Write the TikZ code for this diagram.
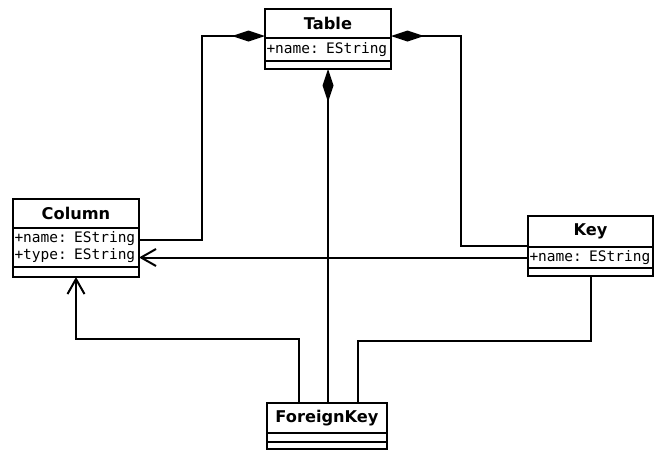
\documentclass[tikz,border=0pt]{standalone}
\usepackage{fontspec}
\newfontfamily\umlsans{DejaVu Sans}
\newfontfamily\umlmono{DejaVu Sans Mono}
\usetikzlibrary{arrows.meta}
\usetikzlibrary{positioning}

\begin{document}
\begin{tikzpicture}[x=1pt,y=-1pt,line width=2pt,
  cls/.style={draw,inner sep=0pt,outer sep=0pt,anchor=north west,font=\umlsans\bfseries\fontsize{16.2}{19}\selectfont},
  attrs/.style={draw,inner ysep=0pt,inner xsep=1.5pt,outer sep=0pt,text width=#1,align=left,font=\umlmono\fontsize{14.5}{17}\selectfont},
  ops/.style={draw,inner sep=0pt,outer sep=0pt},
  compo/.style={{Diamond[length=33pt,width=11pt]}-},
  assoc/.style={-{Straight Barb[length=15pt,width=17pt]}}]
\useasboundingbox (0,0) rectangle (654,450);
% classes
\node[cls,minimum width=126pt,minimum height=29pt] (tabT) at (265,9) {Table};
\node[attrs=123pt,minimum height=23pt,below=0pt of tabT] (tabA) {+name: EString};
\node[ops,minimum width=126pt,minimum height=8pt,below=0pt of tabA] (tabO) {};
\node[cls,minimum width=126pt,minimum height=29pt] (colT) at (13,199) {Column};
\node[attrs=123pt,minimum height=39pt,below=0pt of colT] (colA) {+name: EString\\+type: EString};
\node[ops,minimum width=126pt,minimum height=10pt,below=0pt of colA] (colO) {};
\node[cls,minimum width=125pt,minimum height=31pt] (keyT) at (528,216) {Key};
\node[attrs=122pt,minimum height=21pt,below=0pt of keyT] (keyA) {+name: EString};
\node[ops,minimum width=125pt,minimum height=8pt,below=0pt of keyA] (keyO) {};
\node[cls,minimum width=120pt,minimum height=30pt] (fkT) at (267,403) {ForeignKey};
\node[ops,minimum width=120pt,minimum height=9pt,below=0pt of fkT] (fkA) {};
\node[ops,minimum width=120pt,minimum height=7pt,below=0pt of fkA] (fkO) {};
% connectors
\draw[compo] ([yshift=2pt]tabT.south west) -- ++(-63,0) |- ([yshift=8pt]colA.east);
\draw[compo] ([yshift=2pt]tabT.south east) -- ++(70,0) |- ([yshift=1pt]keyT.south west);
\draw[compo] (tabO.south) -- (tabO.south |- fkT.north);
\draw[assoc] (keyA.west) -- (colA.east |- keyA.west);
\draw[assoc] ([xshift=-28pt]fkT.north) -- ++(0,-64) -| (colO.south);
\draw (keyO.south) -- ++(0,65) -| ([xshift=31pt]fkT.north);
\end{tikzpicture}
\end{document}
